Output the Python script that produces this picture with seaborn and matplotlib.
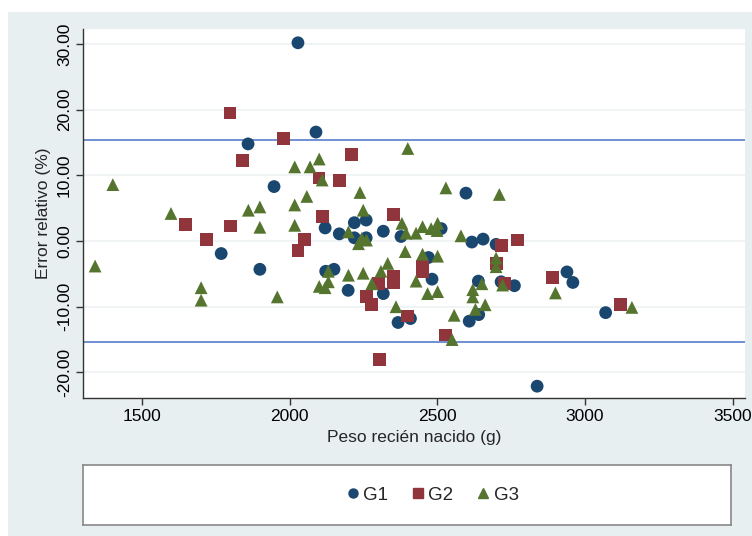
import matplotlib
matplotlib.use("Agg")
import matplotlib.pyplot as plt
import seaborn as sns
import pandas as pd
from matplotlib.patches import Rectangle

# ---- data ----
g1_x = [2028, 2089, 1859, 1947, 1768, 1899, 2120, 2168, 2219, 2219, 2259, 2259, 2122, 2150,
        2198, 2317, 2377, 2513, 2617, 2655, 2699, 2470, 2482, 2317, 2367, 2409, 2639, 2716,
        2761, 2608, 2640, 2939, 2959, 3070, 2838, 2597]
g1_y = [30.2, 16.6, 14.8, 8.3, -1.9, -4.3, 2.0, 1.1, 2.8, 0.5, 3.2, 0.5, -4.6, -4.3,
        -7.5, 1.5, 0.7, 1.9, -0.15, 0.3, -0.5, -2.5, -5.8, -8.0, -12.4, -11.8, -6.1, -6.2,
        -6.8, -12.2, -11.2, -4.7, -6.3, -10.9, -22.1, 7.3]

g2_x = [1798, 1978, 1839, 2210, 2099, 2169, 2110, 1648, 1800, 1719, 2050, 2028, 2260, 2277,
        2304, 2351, 2450, 2450, 2351, 2351, 2300, 2400, 2529, 2717, 2771, 2701, 2727, 2891, 3120]
g2_y = [19.5, 15.6, 12.3, 13.2, 9.6, 9.2, 3.7, 2.5, 2.3, 0.3, 0.3, -1.4, -8.4, -9.6,
        -18.0, 4.1, -3.9, -4.7, -5.4, -6.3, -6.4, -11.4, -14.3, -0.7, 0.15, -3.4, -6.4, -5.5, -9.7]

g3_x = [1401, 2017, 2069, 2100, 2110, 2238, 2058, 2017, 1860, 1899, 2249, 1598, 2400, 2529,
        2710, 1341, 1899, 2017, 1700, 1700, 1958, 2100, 2120, 2131, 2131, 2199, 2249, 2278,
        2199, 2233, 2244, 2260, 2380, 2394, 2428, 2450, 2479, 2501, 2499, 2580, 2391, 2450,
        2501, 2332, 2309, 2428, 2467, 2501, 2360, 2557, 2550, 2620, 2620, 2629, 2662, 2651,
        2699, 2699, 2721, 2900, 3159]
g3_y = [8.6, 11.3, 11.3, 12.5, 9.3, 7.4, 6.8, 5.5, 4.7, 5.2, 4.7, 4.2, 14.1, 8.1,
        7.1, -3.8, 2.1, 2.4, -7.1, -9.0, -8.5, -6.9, -7.1, -6.2, -4.6, -5.2, -4.9, -6.5,
        1.4, -0.4, 0.4, 0.15, 2.7, 1.2, 1.2, 2.2, 1.9, 2.7, 1.6, 0.8, -1.6, -2.0,
        -2.3, -3.4, -4.6, -6.1, -8.0, -7.7, -10.0, -11.3, -15.0, -7.4, -8.5, -10.4, -9.7, -6.5,
        -2.6, -3.9, -6.7, -7.9, -10.1]

groups = ["G1", "G2", "G3"]
ref_lines = [15.4, -15.3]
x_ticks = [1500, 2000, 2500, 3000, 3500]
y_ticks = [-20, -10, 0, 10, 20, 30]
x_label = "Peso recién nacido (g)"
y_label = "Error relativo (%)"

df = pd.DataFrame({
    "peso": g1_x + g2_x + g3_x,
    "error": g1_y + g2_y + g3_y,
    "grupo": ["G1"] * len(g1_x) + ["G2"] * len(g2_x) + ["G3"] * len(g3_x),
})

palette = {"G1": "#1a476f", "G2": "#90353b", "G3": "#55752f"}
markers = {"G1": "o", "G2": "s", "G3": "^"}

sns.set_theme(style="white")
plt.rcParams["font.family"] = ["Liberation Sans", "DejaVu Sans"]

W, H = 752, 536
fig = plt.figure(figsize=(W / 100, H / 100), dpi=100)
fig.patch.set_facecolor("white")
bg = "#e8eff1"
fig.patches.append(Rectangle((8 / W, 0), 1 - 8 / W, 1 - 12 / H, transform=fig.transFigure,
                             facecolor=bg, edgecolor="none", zorder=-10))

ax = fig.add_axes([83 / W, 1 - 398 / H, (745 - 83) / W, (398 - 29) / H])
ax.set_facecolor("white")

sns.scatterplot(data=df, x="peso", y="error", hue="grupo", style="grupo",
                palette=palette, markers=markers, hue_order=groups, style_order=groups,
                s=85, linewidth=0, edgecolor="none", legend=False, ax=ax, zorder=3)

for v in ref_lines:
    ax.axhline(v, color="#4a72c4", lw=1.1, zorder=2)

ax.set_xlim(1300, 3542)
ax.set_ylim(-23.9, 32.3)
ax.set_xticks(x_ticks)
ax.set_yticks(y_ticks)
ax.set_yticklabels([f"{t:.2f}" for t in y_ticks], rotation=90, va="center")
ax.yaxis.grid(True, color="#eef2f3", lw=1.2, zorder=0)
ax.xaxis.grid(False)
for sp in ["top", "right"]:
    ax.spines[sp].set_visible(False)
for sp in ["left", "bottom"]:
    ax.spines[sp].set_color("#333333")
    ax.spines[sp].set_linewidth(1.0)
ax.tick_params(axis="both", which="major", direction="out", length=5, width=1,
               color="#333333", labelsize=12.5, labelcolor="black", pad=3, left=True, bottom=True)
ax.set_xlabel(x_label, fontsize=12.5, labelpad=4)
ax.set_ylabel(y_label, fontsize=12.5, labelpad=4)

# legend box
lax = fig.add_axes([83 / W, 1 - 525 / H, (731 - 83) / W, (525 - 465) / H])
lax.set_facecolor("white")
lax.set_xticks([])
lax.set_yticks([])
for sp in lax.spines.values():
    sp.set_color("#888888")
    sp.set_linewidth(1.2)
handles = [plt.Line2D([], [], marker=markers[g], color=palette[g], linestyle="none",
                      markersize=6.5, label=g) for g in groups]
lax.legend(handles=handles, loc="center", bbox_to_anchor=(0.537, 0.5), ncol=3, frameon=False,
           fontsize=13.5, handletextpad=0.05, columnspacing=1.1, handlelength=1.0)

fig.savefig("out.png", dpi=100, facecolor=fig.get_facecolor())
